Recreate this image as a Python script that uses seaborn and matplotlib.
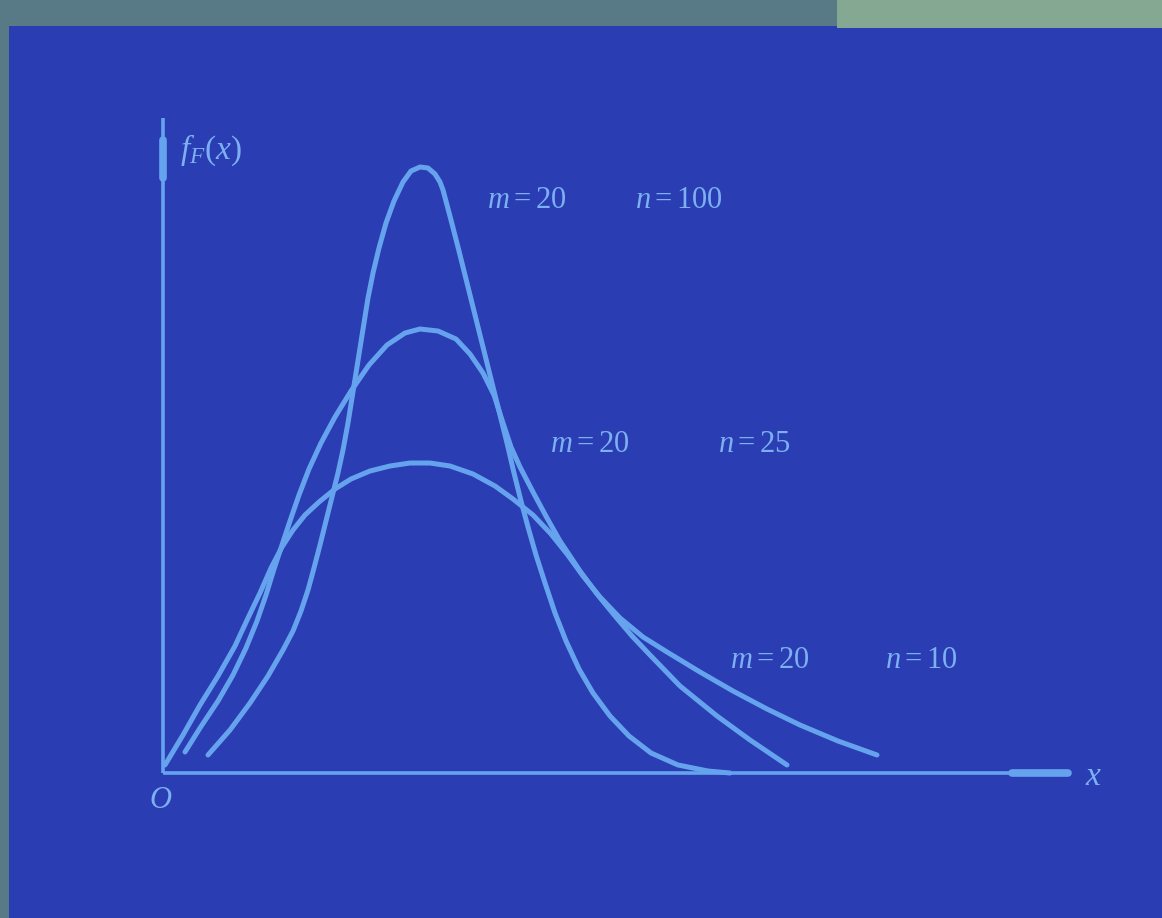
import pandas as pd
import matplotlib.pyplot as plt
import seaborn as sns
from matplotlib.patches import Rectangle

# F-distribution density sketch (x from origin, y up)
x_n100 = [45, 67, 87, 105, 120, 130, 138, 145, 151, 157, 163, 169, 175, 180, 185, 189, 193, 197, 201, 205,
          210, 216, 223, 231, 240, 248, 257, 265, 272, 277, 280, 288, 296, 304, 312, 320, 328, 336, 344, 351,
          358, 365, 373, 382, 392, 403, 416, 430, 447, 466, 488, 515, 545, 567]
y_n100 = [18, 43, 70, 97, 123, 142, 162, 183, 205, 228, 252, 276, 300, 323, 350, 375, 400, 425, 450, 475,
          500, 525, 550, 572, 591, 602, 606, 605, 599, 591, 583, 553, 522, 490, 458, 426, 394, 362, 330, 300,
          272, 246, 218, 190, 160, 132, 104, 80, 57, 37, 20, 8, 2, 0]

x_n25 = [22, 37, 55, 70, 83, 94, 103, 111, 119, 127, 136, 146, 158, 172, 188, 206, 224, 242, 257, 275,
         293, 307, 320, 331, 340, 348, 357, 370, 384, 397, 417, 434, 452, 469, 487, 517, 554, 587, 624]
y_n25 = [21, 45, 72, 98, 125, 152, 178, 204, 228, 252, 278, 304, 330, 356, 382, 408, 428, 440, 444, 442,
         434, 419, 400, 378, 350, 326, 306, 281, 255, 232, 202, 179, 157, 137, 118, 87, 57, 33, 8]

x_n10 = [2, 20, 37, 55, 72, 85, 97, 108, 119, 130, 142, 156, 172, 188, 207, 227, 247, 267, 287, 310,
         332, 350, 370, 388, 404, 420, 437, 457, 480, 504, 537, 570, 604, 637, 675, 714]
y_n10 = [8, 38, 68, 97, 127, 155, 180, 205, 226, 243, 258, 271, 284, 294, 302, 307, 310, 310, 307, 299,
         287, 274, 258, 239, 219, 197, 176, 155, 136, 121, 101, 82, 64, 48, 32, 18]

curve_names = ['n=100', 'n=25', 'n=10']
m_labels = ['$m=20$', '$m=20$', '$m=20$']
n_labels = ['$n=100$', '$n=25$', '$n=10$']

plt.rcParams['mathtext.fontset'] = 'custom'
plt.rcParams['mathtext.rm'] = 'Liberation Serif'
plt.rcParams['mathtext.it'] = 'Liberation Serif:italic'
plt.rcParams['font.family'] = ['Liberation Serif', 'DejaVu Serif']

bg_blue = '#2a3db2'
line_col = '#66a3ee'
text_col = '#7cb0f2'

df = pd.concat([
    pd.DataFrame({'x': x_n100, 'y': y_n100, 'curve': curve_names[0]}),
    pd.DataFrame({'x': x_n25, 'y': y_n25, 'curve': curve_names[1]}),
    pd.DataFrame({'x': x_n10, 'y': y_n10, 'curve': curve_names[2]}),
])

fig = plt.figure(figsize=(11.62, 9.18), dpi=100, facecolor='#587a86')
# lighter greenish part of the photo frame, top right
fig.patches.append(Rectangle((0.72, 0.97), 0.28, 0.03, transform=fig.transFigure,
                             facecolor='#84a892', edgecolor='none', zorder=0))
ax = fig.add_axes([9 / 1162, 0, 1 - 9 / 1162, 1 - 26 / 918])
ax.set_facecolor(bg_blue)

sns.lineplot(data=df, x='x', y='y', hue='curve', units='curve', estimator=None, sort=False,
             palette={c: line_col for c in curve_names}, linewidth=3.6, legend=False, ax=ax,
             solid_capstyle='round', solid_joinstyle='round')

# axes drawn by hand like the slide
ax.plot([0, 0], [0, 655], color=line_col, lw=2.6, solid_capstyle='butt')
ax.plot([0, 0], [595, 633], color=line_col, lw=5.5, solid_capstyle='round')
ax.plot([0, 905], [0, 0], color=line_col, lw=2.6, solid_capstyle='butt')
ax.plot([849, 905], [0, 0], color=line_col, lw=5.5, solid_capstyle='round')

ax.text(17, 623, '$f_F(x)$', color=text_col, fontsize=24, ha='left', va='center')
ax.text(-2, -27, '$O$', color=text_col, fontsize=22, ha='center', va='center')
ax.text(930, -4, '$x$', color=text_col, fontsize=24, ha='center', va='center')

label_y = [573, 328, 113]
m_x = [324, 387, 567]
n_x = [472, 555, 722]
for mx, nx, ly, ml, nl in zip(m_x, n_x, label_y, m_labels, n_labels):
    ax.text(mx, ly, ml, color=text_col, fontsize=22, ha='left', va='center')
    ax.text(nx, ly, nl, color=text_col, fontsize=22, ha='left', va='center')

ax.set_xlim(-154, 999)
ax.set_ylim(-145, 747)
ax.set_xticks([])
ax.set_yticks([])
ax.set_xlabel('')
ax.set_ylabel('')
for s in ax.spines.values():
    s.set_visible(False)

plt.savefig('out.png', dpi=100, facecolor=fig.get_facecolor())
